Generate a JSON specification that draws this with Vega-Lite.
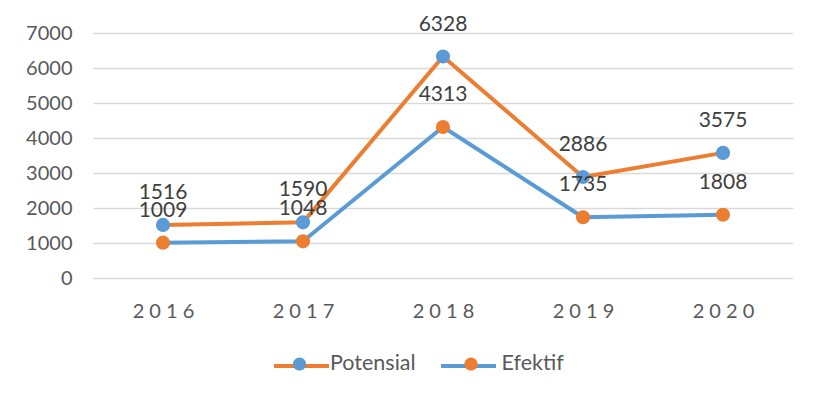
{
  "$schema": "https://vega.github.io/schema/vega-lite/v6.json",
  "width": 700,
  "height": 245,
  "autosize": {"type": "none"},
  "padding": {"left": 93, "top": 33, "right": 27, "bottom": 122},
  "background": "white",
  "config": {
    "view": {"stroke": null},
    "font": "Lato"
  },
  "data": {
    "values": [
      {"year": "2016", "series": "Potensial", "value": 1516},
      {"year": "2017", "series": "Potensial", "value": 1590},
      {"year": "2018", "series": "Potensial", "value": 6328},
      {"year": "2019", "series": "Potensial", "value": 2886},
      {"year": "2020", "series": "Potensial", "value": 3575},
      {"year": "2016", "series": "Efektif", "value": 1009},
      {"year": "2017", "series": "Efektif", "value": 1048},
      {"year": "2018", "series": "Efektif", "value": 4313},
      {"year": "2019", "series": "Efektif", "value": 1735},
      {"year": "2020", "series": "Efektif", "value": 1808}
    ]
  },
  "encoding": {
    "x": {
      "field": "year",
      "type": "ordinal",
      "scale": {"type": "point", "padding": 0.5},
      "axis": {
        "title": null,
        "domain": false,
        "ticks": false,
        "grid": false,
        "labelAngle": 0,
        "labelFont": "Lato",
        "labelFontSize": 20,
        "labelColor": "#595959",
        "labelPadding": 23,
        "labelExpr": "join(split(datum.label, ''), ' ')"
      }
    },
    "y": {
      "field": "value",
      "type": "quantitative",
      "scale": {"domain": [0, 7000], "nice": false},
      "axis": {
        "title": null,
        "values": [0, 1000, 2000, 3000, 4000, 5000, 6000, 7000],
        "format": "d",
        "domain": false,
        "ticks": false,
        "grid": true,
        "gridColor": "#d9d9d9",
        "gridWidth": 1.3,
        "labelFont": "Lato",
        "labelFontSize": 20,
        "labelColor": "#595959",
        "labelPadding": 21
      }
    }
  },
  "layer": [
    {
      "mark": {"type": "line", "strokeWidth": 4, "strokeCap": "round", "strokeJoin": "round"},
      "encoding": {
        "color": {
          "field": "series",
          "type": "nominal",
          "scale": {"domain": ["Potensial", "Efektif"], "range": ["#ED7D31", "#5B9BD5"]},
          "legend": {
            "title": null,
            "orient": "none",
            "legendX": 179,
            "legendY": 303.5,
            "direction": "horizontal",
            "padding": 0,
            "symbolType": "stroke",
            "symbolSize": 3025,
            "symbolStrokeWidth": 4,
            "symbolOpacity": 1,
            "labelOffset": 3,
            "columnPadding": 96,
            "labelFont": "Lato",
            "labelFontSize": 21.5,
            "labelColor": "#595959",
            "labelExpr": "''"
          }
        }
      }
    },
    {
      "mark": {"type": "point", "filled": true, "shape": "circle", "size": 200, "opacity": 1, "strokeWidth": 0},
      "encoding": {
        "fill": {
          "field": "series",
          "type": "nominal",
          "sort": "descending",
          "scale": {"range": ["#5B9BD5", "#ED7D31"]},
          "legend": {
            "title": null,
            "orient": "none",
            "legendX": 179,
            "legendY": 303.5,
            "direction": "horizontal",
            "padding": 0,
            "symbolType": "M -0.24 0 A 0.24 0.24 0 1 0 0.24 0 A 0.24 0.24 0 1 0 -0.24 0 Z",
            "symbolSize": 3025,
            "symbolStrokeWidth": 0,
            "symbolOpacity": 1,
            "labelOffset": 3,
            "columnPadding": 27.5,
            "labelFont": "Lato",
            "labelFontSize": 21.5,
            "labelColor": "#595959"
          }
        }
      }
    },
    {
      "mark": {"type": "text", "baseline": "alphabetic", "align": "center", "dy": -26, "font": "Lato", "fontSize": 21, "color": "#404040"},
      "encoding": {
        "text": {"field": "value", "type": "quantitative", "format": "d"}
      }
    }
  ]
}
